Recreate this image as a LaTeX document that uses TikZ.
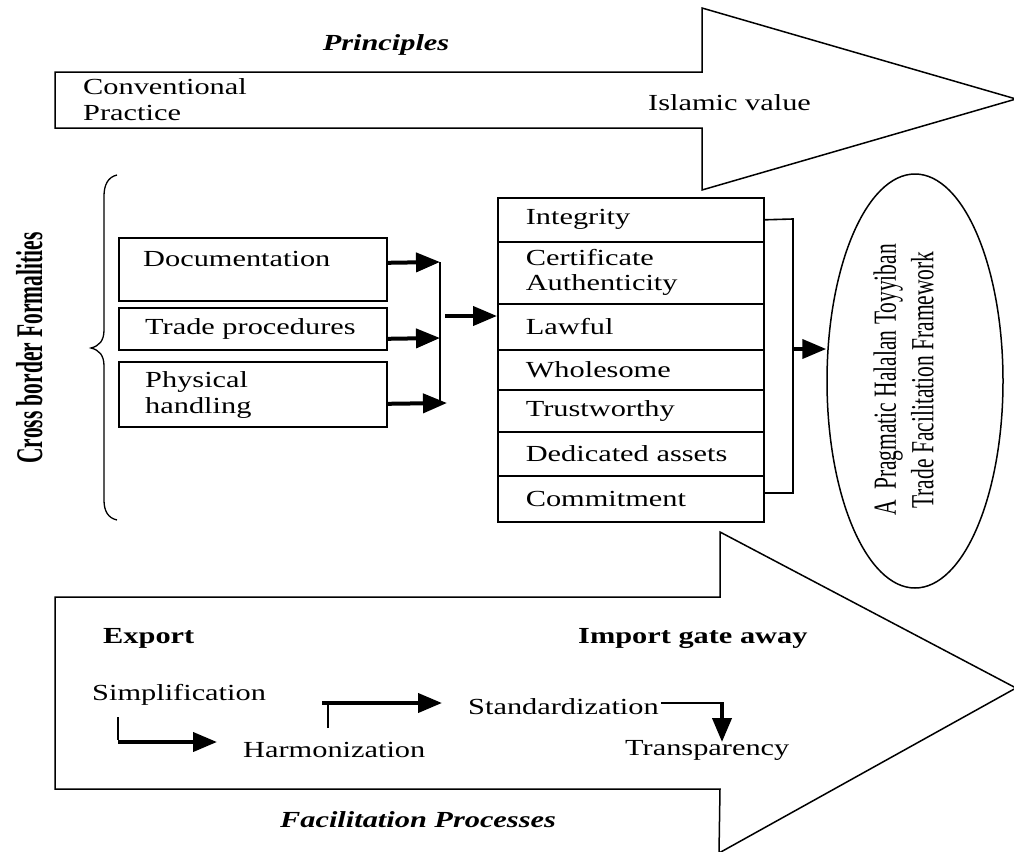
\documentclass[tikz,border=0pt]{standalone}
\usepackage{fontspec}
\setmainfont{Liberation Serif}[FakeStretch=1.32]
\newfontfamily\rotfont{Liberation Serif}
\usetikzlibrary{arrows.meta,shapes.geometric}
\begin{document}
\begin{tikzpicture}[x=1pt,y=-1pt,
  outline/.style={draw, line width=1.5pt},
  txt/.style={font=\fontsize{23}{26}\selectfont, inner sep=0pt, align=left, anchor=west},
  box/.style={draw, line width=1.6pt, minimum width=268pt, inner sep=0pt, anchor=north west},
  row/.style={draw, line width=1.6pt, minimum width=266pt, text width=210pt, inner xsep=28pt, inner ysep=0pt, align=left, anchor=north west, font=\fontsize{23}{25}\selectfont},
  thinline/.style={line width=1.6pt},
  thickarrow/.style={line width=4pt, -{Triangle[length=24pt,width=19pt]}},
]
\useasboundingbox (0,0) rectangle (1014,851);
\clip (0,0) rectangle (1014,851);
\fill[white] (0,0) rectangle (1014,851);

% big arrows
\draw[outline] (55,72) -- (702,72) -- (702,8) -- (1016,99) -- (702,190) -- (702,128) -- (55,128) -- cycle;
\draw[outline] (55,597) -- (720,597) -- (720,532) -- (1016,688) -- (719,853) -- (720,789) -- (55,789) -- cycle;

% top arrow texts
\node[txt, font=\fontsize{23}{26}\selectfont\bfseries\itshape, anchor=center] (princ) at (386,45) {Principles};
\node[txt] (conv) at (83,100) {Conventional\\Practice};
\node[txt] (islam) at (648,103) {Islamic value};

% brace and rotated label
\draw[line width=1.3pt] (117,175) .. controls (108,177) and (104,185) .. (104,196) -- (104,330)
  .. controls (104,341) and (99,346) .. (91,348) .. controls (99,350) and (104,355) .. (104,366)
  -- (104,500) .. controls (104,511) and (108,518) .. (117,520);
\node[rotate=90, inner sep=0pt, anchor=base, font=\rotfont\bfseries\fontsize{21.5}{25}\selectfont] (cbf) at (42,348) {\scalebox{1}[1.75]{Cross border Formalities}};

% left boxes
\node[box, minimum height=63pt] (doc) at (118,237) {};
\node[box, minimum height=42pt] (trade) at (118,307) {};
\node[box, minimum height=65pt] (phys) at (118,361) {};
\node[txt] (doct) at (143,259) {Documentation};
\node[txt] (tradet) at (145,329) {Trade procedures};
\node[txt] (physt) at (145,395) {Physical\\handling};

% stack of values
\node[row, minimum height=44pt] (integ) at (497,197) {Integrity};
\node[row, minimum height=62pt] (cert) at (497,241) {Certificate\\Authenticity};
\node[row, minimum height=46pt] (lawful) at (497,303) {Lawful};
\node[row, minimum height=40pt] (whole) at (497,349) {Wholesome};
\node[row, minimum height=42pt] (trust) at (497,389) {Trustworthy};
\node[row, minimum height=44pt] (dedic) at (497,431) {Dedicated assets};
\node[row, minimum height=46pt] (commit) at (497,475) {Commitment};

% ellipse
\node[draw, ellipse, line width=1.5pt, minimum width=176pt, minimum height=414pt, inner sep=0pt] (ell) at (915,381) {};
\node[rotate=90, inner sep=0pt, font=\rotfont\fontsize{21.5}{25}\selectfont] (ellt) at (907,380)
  {\scalebox{1}[1.5]{\begin{tabular}{@{}c@{}}A\ \ Pragmatic Halalan Toyyiban\\Trade Facilitation Framework\end{tabular}}};

% connectors left to stack
\coordinate (jn) at (440,262);
\coordinate (js) at (440,403);
\coordinate (jm) at (445,316);
\draw[thickarrow] ([yshift=6.5pt]doc.east) -- (jn);
\draw[thickarrow] ([yshift=-10pt]trade.east) -- (440,338);
\draw[thickarrow] ([yshift=-9.5pt]phys.east) -- (447,403);
\draw[thinline] (jn) -- (js);
\draw[thickarrow] (jm) -- (jm -| lawful.west);

% bracket from stack to ellipse
\coordinate (bt) at (793,219);
\coordinate (bb) at (793,493);
\coordinate (bm) at (793,349);
\draw[thinline] (integ.east) -- (bt) -- (bb) -- (bb -| commit.east);
\draw[thickarrow] (bm) -- (bm -| ell.west);

% bottom arrow texts
\node[txt, font=\fontsize{23}{26}\selectfont\bfseries] (exp) at (103,638) {Export};
\node[txt, font=\fontsize{23}{26}\selectfont\bfseries] (imp) at (578,638) {Import gate away};
\node[txt] (simp) at (92,695) {Simplification};
\node[txt] (harm) at (243,750) {Harmonization};
\node[txt] (stand) at (468,707) {Standardization};
\node[txt] (transp) at (625,750) {Transparency};
\node[txt, font=\fontsize{23}{26}\selectfont\bfseries\itshape, anchor=center] (facil) at (418,820) {Facilitation Processes};

% bottom connectors
\coordinate (s1) at (118,717);
\coordinate (s2) at (118,742);
\draw[thinline] (s1) -- ([yshift=2pt]s2);
\draw[thickarrow] (s2) -- (217,742);
\coordinate (h1) at (328,728);
\coordinate (h2) at (328,703);
\draw[thinline] (h1) -- (h2);
\draw[thickarrow] (322,703) -- (442,703);
\coordinate (t1) at (722,703);
\draw[thinline] (stand.east) ++(2,-4) -- (t1);
\draw[thickarrow] ([yshift=0.8pt]t1) -- (722,742);
\end{tikzpicture}
\end{document}
